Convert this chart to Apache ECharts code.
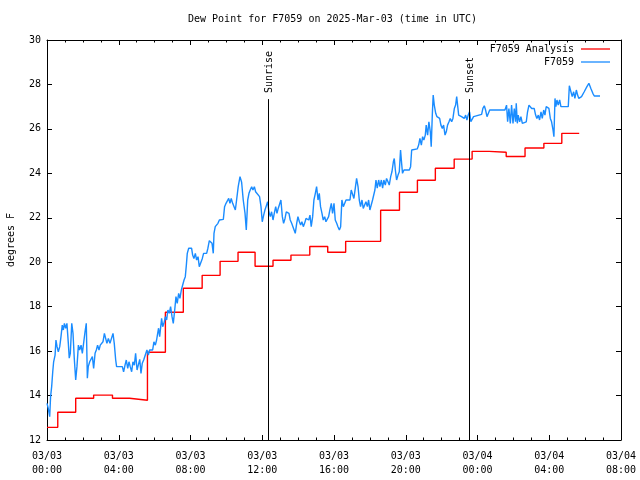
<!DOCTYPE html>
<html><head><meta charset="utf-8">
<script src="https://cdn.jsdelivr.net/npm/echarts@6/dist/echarts.min.js"></script>
<style>html,body{margin:0;padding:0;background:#fff}#c{width:640px;height:480px}</style>
</head><body><div id="c"></div>
<script>
const titleText = 'Dew Point for F7059 on 2025-Mar-03 (time in UTC)';
const yAxisTitle = 'degrees F';
const seriesNames = ['F7059 Analysis', 'F7059'];
const xTickLabels = ['03/03\n00:00','03/03\n04:00','03/03\n08:00','03/03\n12:00','03/03\n16:00','03/03\n20:00','03/04\n00:00','03/04\n04:00','03/04\n08:00'];
// hours since 2025-03-03 00:00 UTC
const anaHours = [0,0.6,1.6,2.6,3.65,4.6,5.6,6.6,7.6,8.65,9.65,10.65,11.6,12.6,13.6,14.65,15.65,16.65,18.6,19.65,20.65,21.65,22.7,23.7,24.65,25.6,26.65,27.7,28.7,29.67];
const anaDewpt = [12.57,13.25,13.88,14.02,13.88,13.79,15.95,17.75,18.83,19.41,20.04,20.45,19.82,20.09,20.32,20.71,20.45,20.94,22.34,23.15,23.69,24.23,24.64,24.99,24.95,24.76,25.14,25.35,25.8,25.8];
const obsHours = [0.00,0.07,0.15,0.20,0.26,0.32,0.37,0.45,0.50,0.56,0.63,0.71,0.78,0.85,0.91,0.97,1.04,1.11,1.19,1.24,1.30,1.38,1.45,1.52,1.60,1.67,1.75,1.82,1.90,1.97,2.04,2.12,2.19,2.25,2.30,2.38,2.45,2.53,2.60,2.68,2.75,2.82,2.90,2.97,3.05,3.12,3.20,3.27,3.34,3.42,3.51,3.60,3.68,3.75,3.83,3.88,4.07,4.20,4.27,4.35,4.42,4.50,4.57,4.64,4.72,4.79,4.87,4.94,5.02,5.09,5.17,5.24,5.31,5.39,5.50,5.57,5.65,5.72,5.82,5.89,5.96,6.04,6.11,6.17,6.22,6.28,6.34,6.39,6.45,6.52,6.60,6.67,6.74,6.82,6.89,6.97,7.04,7.12,7.19,7.26,7.34,7.41,7.49,7.56,7.64,7.71,7.77,7.82,7.90,7.97,8.06,8.12,8.19,8.27,8.34,8.42,8.49,8.58,8.66,8.73,8.90,8.97,9.05,9.12,9.20,9.27,9.31,9.38,9.46,9.53,9.61,9.83,9.90,9.98,10.05,10.13,10.20,10.27,10.35,10.42,10.50,10.57,10.66,10.76,10.85,10.94,11.04,11.11,11.19,11.26,11.33,11.41,11.48,11.56,11.63,11.71,11.85,11.93,12.00,12.08,12.15,12.24,12.30,12.37,12.45,12.52,12.60,12.67,12.75,12.82,12.89,12.97,13.04,13.12,13.19,13.27,13.34,13.42,13.49,13.56,13.64,13.71,13.79,13.84,13.92,13.99,14.07,14.14,14.21,14.29,14.36,14.44,14.51,14.59,14.66,14.73,14.81,14.88,14.96,15.03,15.11,15.18,15.25,15.33,15.40,15.48,15.55,15.63,15.70,15.77,15.85,15.92,16.00,16.07,16.15,16.22,16.30,16.37,16.44,16.52,16.59,16.67,16.89,16.96,17.04,17.11,17.19,17.26,17.34,17.41,17.48,17.56,17.63,17.71,17.78,17.86,17.93,18.00,18.08,18.15,18.21,18.28,18.34,18.41,18.49,18.56,18.64,18.71,18.78,18.86,18.93,19.01,19.08,19.16,19.23,19.31,19.36,19.42,19.49,19.57,19.64,19.71,19.77,19.82,19.90,20.20,20.27,20.33,20.64,20.72,20.79,20.87,20.94,21.01,21.09,21.14,21.22,21.29,21.37,21.42,21.48,21.53,21.59,21.67,21.74,21.81,21.89,21.96,22.04,22.11,22.19,22.26,22.33,22.41,22.48,22.56,22.63,22.71,22.78,22.84,22.89,22.95,23.02,23.11,23.19,23.26,23.34,23.41,23.48,23.56,23.63,23.71,23.78,23.86,24.23,24.30,24.38,24.45,24.53,24.60,24.68,25.53,25.62,25.68,25.75,25.83,25.90,25.98,26.05,26.12,26.16,26.22,26.27,26.35,26.42,26.50,26.72,26.79,26.87,26.94,27.02,27.09,27.16,27.24,27.31,27.39,27.46,27.54,27.61,27.69,27.76,27.83,27.91,27.98,28.06,28.13,28.21,28.26,28.32,28.37,28.43,28.50,28.58,28.65,29.06,29.12,29.21,29.28,29.36,29.43,29.51,29.58,29.65,29.73,29.80,29.95,30.10,30.21,30.32,30.43,30.51,30.83];
const obsDewpt = [13.65,13.42,13.05,13.95,14.4,15.07,15.52,15.82,16.5,16.2,15.97,16.2,16.65,17.17,16.95,17.25,17.03,17.25,16.35,15.68,15.9,17.25,16.8,15.68,14.7,15.3,16.27,16.05,16.27,15.9,16.35,16.87,17.25,14.78,15.3,15.52,15.6,15.75,15.22,15.9,16.05,16.27,16.05,16.27,16.2,16.42,16.8,16.57,16.35,16.57,16.35,16.35,16.8,16.35,15.6,15.3,15.3,15.3,15.07,15.37,15.6,15.22,15.52,15.3,15.07,15.52,15.37,15.9,15.15,15.37,15.63,15.0,15.45,15.6,15.6,16.05,15.82,16.05,15.97,16.05,16.42,16.27,16.5,16.8,17.03,16.65,17.1,17.48,17.1,17.25,17.55,17.4,17.85,17.7,18.0,17.55,17.25,17.85,18.45,18.15,18.6,18.37,18.75,18.83,19.2,19.35,19.88,20.4,20.63,20.67,20.63,20.32,20.17,20.4,20.1,20.25,19.8,19.8,20.17,20.4,20.4,20.63,20.97,20.97,20.85,20.4,21.3,21.6,21.67,21.75,21.9,21.93,22.5,22.65,22.72,22.87,22.65,22.87,22.65,22.72,22.35,22.8,23.4,23.85,23.6,22.8,22.2,21.45,22.8,23.1,23.25,23.4,23.25,23.4,23.17,23.1,22.95,22.5,21.82,22.12,22.35,22.57,22.72,22.27,22.05,22.27,21.9,22.2,22.5,22.2,22.42,22.35,22.8,22.05,21.75,21.97,22.27,22.35,22.2,21.9,21.75,21.6,21.52,21.3,21.75,22.05,21.82,21.67,21.82,21.6,21.75,21.97,22.05,21.9,22.12,21.6,22.05,22.8,23.1,23.4,22.8,23.1,22.5,22.2,21.9,22.05,21.82,21.9,22.05,22.35,22.65,22.2,22.65,21.9,21.75,21.6,21.45,21.6,22.8,22.5,22.42,22.8,22.8,23.25,23.25,22.87,22.8,23.77,23.4,22.8,22.5,22.8,22.42,22.35,22.72,22.5,22.8,22.35,22.27,22.8,22.72,23.25,23.7,23.33,23.7,23.4,23.7,23.33,23.7,23.47,23.77,23.62,23.47,23.85,24.07,24.52,24.67,24.15,23.7,23.92,24.07,25.05,24.45,24.0,24.15,24.15,24.3,25.05,25.1,25.27,25.57,25.27,25.65,25.5,25.72,26.17,25.72,26.32,25.87,25.2,26.62,27.52,27.07,26.7,26.55,26.55,26.47,26.17,26.02,26.17,25.72,25.87,26.17,26.32,26.47,26.32,26.47,26.92,27.07,27.45,27.07,26.62,26.55,26.55,26.62,26.47,26.62,26.4,26.62,26.77,26.32,26.4,26.55,26.62,26.65,26.92,27.04,26.85,26.55,26.47,26.85,26.85,27.07,26.32,26.92,26.25,27.07,26.25,26.92,26.32,27.15,26.25,26.62,26.32,26.55,26.25,26.32,26.77,27.07,27.15,26.92,26.85,26.92,26.62,26.47,26.62,26.4,26.77,26.47,26.85,26.62,27.0,27.0,26.92,26.47,26.32,25.95,25.65,27.37,27.0,27.3,27.07,27.3,27.0,27.0,27.94,27.94,27.45,27.67,27.37,27.75,27.52,27.37,27.3,27.45,27.67,27.9,28.05,27.82,27.6,27.48,27.48];
const sunNames = ['Sunrise', 'Sunset'];
const sunHours = [12.34, 23.54];
const sunLineTop = 27.34;
const yMin = 12, yMax = 30, yStep = 2, xMin = 0, xMax = 32, xStep = 4;

const FONT = 'DejaVu Sans Mono';
const RED = '#ff0000', BLUE = '#1a8cff';
const chart = echarts.init(document.getElementById('c'), null, {renderer: 'canvas'});
const axisCommon = {
  axisLine: {show: true, onZero: false, lineStyle: {color: '#000', width: 1}},
  axisTick: {show: true, inside: true, length: 5, lineStyle: {color: '#000'}},
  splitLine: {show: false}
};
const xBase = Object.assign({type: 'value', min: xMin, max: xMax, interval: xStep,
  minorTick: {show: true, splitNumber: 4, length: 2.5, lineStyle: {color: '#000'}}}, axisCommon);
const yBase = Object.assign({type: 'value', min: yMin, max: yMax, interval: yStep}, axisCommon);

chart.setOption({
  animation: false,
  backgroundColor: '#fff',
  textStyle: {fontFamily: FONT},
  title: {text: titleText, left: 188, top: 14, padding: 0,
    textStyle: {fontFamily: FONT, fontSize: 10, fontWeight: 'normal', color: '#000'}},
  legend: {data: seriesNames, orient: 'vertical', right: 30, top: 44, align: 'right',
    icon: 'rect', itemWidth: 29, itemHeight: 1.3, itemGap: 3, padding: 0,
    textStyle: {fontFamily: FONT, fontSize: 10, color: '#000', padding: [0, 2, 0, 0]}},
  grid: {left: 47, right: 19, top: 40, bottom: 40, containLabel: false, outerBoundsMode: 'none'},
  xAxis: [
    Object.assign({}, xBase, {position: 'bottom',
      axisLabel: {margin: 9, lineHeight: 14, fontFamily: FONT, fontSize: 10, color: '#000',
        formatter: v => xTickLabels[Math.round((v - xMin) / xStep)]}}),
    Object.assign({}, xBase, {position: 'top', axisLabel: {show: false}})
  ],
  yAxis: [
    Object.assign({}, yBase, {position: 'left', name: yAxisTitle, nameLocation: 'middle', nameGap: 31,
      nameRotate: 90, nameTextStyle: {fontFamily: FONT, fontSize: 10, color: '#000'},
      axisLabel: {margin: 6, fontFamily: FONT, fontSize: 10, color: '#000'}}),
    Object.assign({}, yBase, {position: 'right', axisLabel: {show: false}})
  ],
  series: [
    {name: seriesNames[0], type: 'line', step: 'end', symbol: 'none',
      color: RED, lineStyle: {width: 1.4, color: RED},
      data: anaHours.map((h, i) => [h, anaDewpt[i]])},
    {name: seriesNames[1], type: 'line', symbol: 'none',
      color: BLUE, lineStyle: {width: 1.4, color: BLUE},
      data: obsHours.map((h, i) => [h, obsDewpt[i]]),
      markLine: {silent: true, symbol: ['none', 'none'], animation: false,
        lineStyle: {color: '#000', width: 1, type: 'solid'}, label: {show: false},
        emphasis: {disabled: true},
        data: sunHours.map(h => [{coord: [h, yMin]}, {coord: [h, sunLineTop]}])}}
  ]
});

const sunGraphics = sunHours.map((h, i) => {
  const p = chart.convertToPixel({xAxisIndex: 0, yAxisIndex: 0}, [h, sunLineTop]);
  return {type: 'text', x: p[0] + 1, y: p[1] - 6, rotation: Math.PI / 2,
    style: {text: sunNames[i], font: '10px "' + FONT + '"', fill: '#000', align: 'left', verticalAlign: 'middle'}};
});
chart.setOption({graphic: sunGraphics});
</script></body></html>
